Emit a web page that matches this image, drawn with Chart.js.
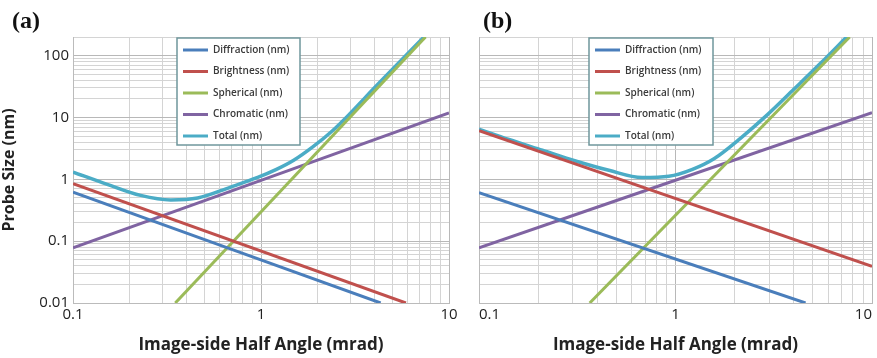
<!DOCTYPE html>
<html>
<head>
<meta charset="utf-8">
<script src="https://cdn.jsdelivr.net/npm/chart.js"></script>
<style>
  body { margin: 0; background: #fff; }
  #wrap { position: relative; width: 877px; height: 358px; overflow: hidden; }
  #chartA { position: absolute; left: 0; top: 0; }
  #chartB { position: absolute; left: 470px; top: 0; }
  .tag { position: absolute; top: 7px; font: bold 24px "Liberation Serif", serif; color: #111; }
</style>
</head>
<body>
<div id="wrap">
  <canvas id="chartA" width="470" height="358"></canvas>
  <canvas id="chartB" width="407" height="358"></canvas>
  <div class="tag" style="left:12px">(a)</div>
  <div class="tag" style="left:483px">(b)</div>
</div>
<script>
// axis ticks (log grid) and which of them carry labels
const xTickValues = [0.1, 0.2, 0.3, 0.4, 0.5, 0.6, 0.7, 0.8, 0.9, 1, 2, 3, 4, 5, 6, 7, 8, 9, 10];
const xTickLabels = [0.1, 1, 10];
const yTickValues = [0.01, 0.02, 0.03, 0.04, 0.05, 0.06, 0.07, 0.08, 0.09,
  0.1, 0.2, 0.3, 0.4, 0.5, 0.6, 0.7, 0.8, 0.9,
  1, 2, 3, 4, 5, 6, 7, 8, 9, 10, 20, 30, 40, 50, 60, 70, 80, 90, 100, 200];
const yTickLabels = [0.01, 0.1, 1, 10, 100];

const seriesNames = ['Diffraction (nm)', 'Brightness (nm)', 'Spherical (nm)', 'Chromatic (nm)', 'Total (nm)'];
const seriesColors = ['#4a7ebb', '#c0504d', '#9bbb59', '#8064a2', '#4bacc6'];

// panel (a)
const aDiffractionX = [0.1, 4.33];
const aDiffractionY = [0.62, 0.01];
const aBrightnessX = [0.1, 5.9];
const aBrightnessY = [0.85, 0.01];
const aSphericalX = [0.35, 7.5];
const aSphericalY = [0.01, 200];
const aChromaticX = [0.1, 10];
const aChromaticY = [0.078, 11.8];
const aTotalX = [0.1, 0.152, 0.229, 0.331, 0.46, 0.69, 0.96, 1.2, 1.5, 1.9, 2.4, 2.92, 4.05, 5.41, 7.5];
const aTotalY = [1.31, 0.83, 0.55, 0.465, 0.5, 0.75, 1.07, 1.43, 2.05, 3.4, 6.1, 10.9, 31, 77, 212];

// panel (b)
const bDiffractionX = [0.1, 4.59];
const bDiffractionY = [0.61, 0.01];
const bBrightnessX = [0.1, 10];
const bBrightnessY = [6.1, 0.039];
const bSphericalX = [0.366, 7.7];
const bSphericalY = [0.01, 200];
const bChromaticX = [0.1, 10];
const bChromaticY = [0.078, 12];
const bTotalX = [0.1, 0.142, 0.21, 0.31, 0.458, 0.676, 0.925, 1.22, 1.57, 2.14, 2.93, 4.0, 5.47, 7.48];
const bTotalY = [6.5, 4.4, 2.95, 1.98, 1.4, 1.07, 1.12, 1.45, 2.15, 4.6, 11, 28.5, 75, 205];

const zip = (xs, ys) => xs.map((x, i) => ({ x: x, y: ys[i] }));

const gridMinor = '#d4d4d4';
const gridMajor = '#b8b8b8';
const tickFont = { family: '"Open Sans", sans-serif', size: 15 };

// legend drawn inside the plot, like the original
const legendBox = {
  id: 'legendBox',
  afterDraw(chart, args, opts) {
    const ctx = chart.ctx;
    ctx.save();
    ctx.fillStyle = '#fff';
    ctx.fillRect(opts.left, opts.top, opts.width, opts.height);
    ctx.strokeStyle = '#6f979c';
    ctx.lineWidth = 1.5;
    ctx.strokeRect(opts.left, opts.top, opts.width, opts.height);
    ctx.font = '600 10px "Open Sans", sans-serif';
    ctx.textBaseline = 'middle';
    chart.data.datasets.forEach((ds, i) => {
      const y = opts.top + 12 + i * 21.5;
      ctx.strokeStyle = ds.borderColor;
      ctx.lineWidth = 3;
      ctx.beginPath();
      ctx.moveTo(opts.left + 6, y);
      ctx.lineTo(opts.left + 31, y);
      ctx.stroke();
      ctx.fillStyle = '#3a3a3a';
      ctx.fillText(ds.label, opts.left + 36, y);
    });
    ctx.restore();
  }
};

function makeChart(id, series, cfg) {
  return new Chart(document.getElementById(id), {
    type: 'line',
    data: {
      datasets: series.map((pts, i) => ({
        label: seriesNames[i],
        data: pts,
        borderColor: seriesColors[i],
        borderWidth: i === 4 ? 3.5 : 3,
        pointRadius: 0,
        fill: false,
        cubicInterpolationMode: 'monotone'
      }))
    },
    options: {
      responsive: false,
      animation: false,
      layout: { padding: { top: 37, right: cfg.padRight, left: 0, bottom: 0 } },
      plugins: {
        legend: { display: false },
        tooltip: { enabled: false },
        legendBox: cfg.legend
      },
      scales: {
        x: {
          type: 'logarithmic',
          min: 0.1,
          max: 10,
          afterBuildTicks: s => { s.ticks = xTickValues.map(v => ({ value: v })); },
          afterFit: s => { s.height = 55; },
          ticks: {
            autoSkip: false,
            maxRotation: 0,
            padding: 3,
            align: cfg.xAlign,
            color: '#222',
            font: tickFont,
            callback: v => xTickLabels.includes(v) ? String(v) : ''
          },
          grid: {
            drawTicks: false,
            color: c => xTickLabels.includes(c.tick && c.tick.value) ? gridMajor : gridMinor
          },
          border: { color: '#bbb' },
          title: {
            display: true,
            text: 'Image-side Half Angle (mrad)',
            color: '#222',
            font: { family: '"Open Sans", sans-serif', size: 17, weight: 'bold' },
            padding: { top: 0, bottom: 3 }
          }
        },
        y: {
          type: 'logarithmic',
          min: 0.01,
          max: 200,
          afterBuildTicks: s => { s.ticks = yTickValues.map(v => ({ value: v })); },
          afterFit: s => { s.width = cfg.yWidth; },
          ticks: {
            display: cfg.yLabels,
            autoSkip: false,
            padding: 4,
            color: '#222',
            font: tickFont,
            callback: v => yTickLabels.includes(v) ? String(v) : ''
          },
          grid: {
            drawTicks: false,
            color: c => yTickLabels.includes(c.tick && c.tick.value) ? gridMajor : gridMinor
          },
          border: { color: '#bbb' },
          title: {
            display: cfg.yLabels,
            text: 'Probe Size (nm)',
            color: '#222',
            font: { family: '"Open Sans", sans-serif', size: 16, weight: 'bold' },
            padding: { top: 0, bottom: 3 }
          }
        }
      }
    },
    plugins: [legendBox]
  });
}

makeChart('chartA', [
  zip(aDiffractionX, aDiffractionY),
  zip(aBrightnessX, aBrightnessY),
  zip(aSphericalX, aSphericalY),
  zip(aChromaticX, aChromaticY),
  zip(aTotalX, aTotalY)
], { padRight: 21, yWidth: 73, yLabels: true, xAlign: 'center',
     legend: { left: 177, top: 38, width: 123, height: 107 } });

makeChart('chartB', [
  zip(bDiffractionX, bDiffractionY),
  zip(bBrightnessX, bBrightnessY),
  zip(bSphericalX, bSphericalY),
  zip(bChromaticX, bChromaticY),
  zip(bTotalX, bTotalY)
], { padRight: 5, yWidth: 9, yLabels: false, xAlign: 'inner',
     legend: { left: 119, top: 38, width: 124, height: 107 } });
</script>
</body>
</html>
